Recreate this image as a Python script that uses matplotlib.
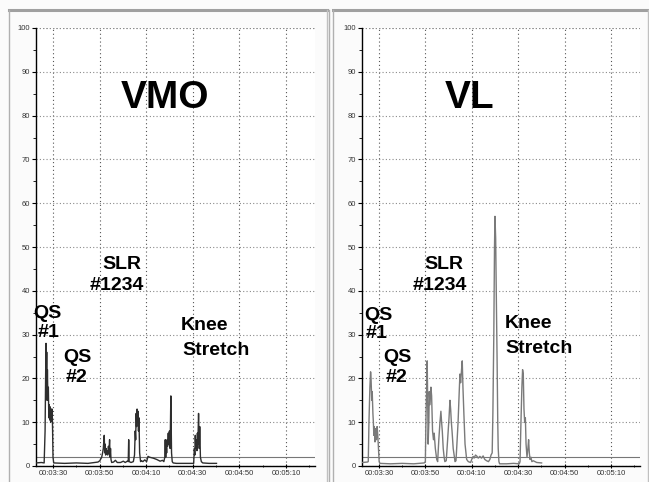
import matplotlib
matplotlib.use("Agg")
import matplotlib.pyplot as plt
from matplotlib.ticker import MultipleLocator, FuncFormatter
from matplotlib.lines import Line2D

# ---------------- data (time in seconds, EMG % ) ----------------
vmo_t = [202.7, 205.0, 206.2, 206.6, 206.9, 207.0, 207.15, 207.3, 207.45, 207.6, 207.8,
         208.0, 208.2, 208.4, 208.6, 208.8, 209.0, 209.2, 209.4, 209.6, 209.8, 210.0, 210.3,
         215.0, 220.0, 225.0, 229.3, 230.1, 230.9, 231.3, 231.6, 232.0, 232.2, 232.4, 232.6,
         232.8, 233.0, 233.2, 233.5, 233.8, 234.0, 234.3, 234.5, 234.7, 234.9, 235.2,
         236.0, 236.8, 237.6, 239.0, 240.2, 241.0, 241.9, 242.3, 242.5, 242.7, 243.5, 244.5,
         245.0, 245.3, 245.5, 245.7, 245.9, 246.1, 246.3, 246.5, 246.7, 246.9, 247.2, 247.6,
         248.0, 248.6, 249.4, 250.2, 250.8, 251.5, 253.0, 254.5, 256.0, 257.0, 257.6,
         258.0, 258.2, 258.4, 258.6, 258.8, 259.0, 259.2, 259.5, 259.7, 260.0, 260.3,
         260.6, 260.9, 261.2, 261.6, 263.0, 266.0, 268.5, 270.4, 270.7, 270.9, 271.1,
         271.3, 271.6, 271.8, 272.0, 272.2, 272.5, 272.8, 273.0, 273.3, 273.7, 274.3,
         277.0, 280.2]
vmo_v = [0.7, 0.8, 0.7, 8.0, 24.0, 28.0, 19.0, 26.0, 15.0, 22.0, 15.0,
         18.0, 11.0, 14.0, 10.5, 13.5, 10.0, 13.0, 10.5, 13.0, 9.0, 2.0, 0.7,
         0.6, 0.7, 0.6, 0.9, 1.2, 2.0, 3.0, 4.0, 7.0, 3.0, 5.0, 2.5,
         4.0, 2.8, 3.5, 2.5, 4.5, 3.0, 6.0, 2.0, 4.0, 1.5, 0.8,
         0.9, 1.3, 0.8, 0.8, 1.1, 0.8, 1.1, 1.0, 6.0, 1.0, 0.8, 1.0,
         2.5, 8.0, 6.0, 12.0, 9.0, 13.0, 10.0, 12.5, 8.0, 11.0, 3.0, 1.0,
         1.2, 1.0, 1.4, 1.0, 2.2, 2.0, 1.8, 1.5, 1.1, 1.3, 1.0,
         2.0, 6.0, 2.0, 5.0, 3.0, 6.0, 4.5, 7.5, 5.0, 8.0, 4.0,
         16.0, 3.0, 1.0, 0.7, 0.6, 0.6, 0.6, 0.6, 4.0, 2.5, 7.0,
         4.0, 6.0, 3.5, 7.5, 5.0, 12.0, 4.0, 9.0, 2.0, 1.0, 0.7,
         0.6, 0.6]

vl_t = [202.7, 205.0, 205.4, 205.7, 206.1, 206.4, 206.6, 206.9, 207.1, 207.4, 207.6,
        207.8, 208.0, 208.3, 208.6, 208.9, 209.2, 209.5, 209.7, 210.1, 210.4,
        215.0, 220.0, 225.0, 229.5, 230.0, 230.3, 230.6, 230.8, 231.0, 231.2, 231.5,
        231.7, 232.0, 232.4, 232.7, 233.1, 233.5, 233.8, 234.3, 234.9, 235.3, 235.8,
        236.3, 236.7, 237.0, 237.3, 237.7, 238.1, 238.4, 239.0, 239.6, 240.2, 240.6,
        240.9, 241.2, 241.5, 242.0, 242.8, 243.2, 243.6, 244.1, 244.6, 244.9, 245.2,
        245.6, 245.9, 246.2, 246.6, 247.1, 247.8, 248.5, 249.5, 250.2, 250.6, 251.0,
        251.6, 252.1, 252.8, 253.5, 254.2, 254.9, 255.6, 256.4, 257.2, 257.8, 258.3,
        258.8, 259.1, 259.5, 259.8, 260.0, 260.3, 260.6, 260.9, 261.2, 261.4, 261.7,
        262.0, 265.0, 268.0, 270.5, 270.8, 271.2, 271.6, 271.9, 272.2, 272.5, 272.8,
        273.1, 273.4, 273.8, 274.2, 274.5, 274.8, 275.1, 275.5, 275.9, 276.5, 278.0,
        280.1]
vl_v = [0.8, 0.9, 1.0, 10.0, 18.0, 21.5, 20.0, 15.0, 17.0, 12.0, 10.0,
        7.0, 9.0, 5.5, 8.5, 6.0, 9.0, 7.0, 5.0, 1.0, 0.6,
        0.5, 0.6, 0.5, 0.7, 1.0, 12.0, 18.0, 24.0, 15.0, 5.0, 10.0,
        17.0, 14.0, 18.0, 16.0, 8.0, 6.0, 7.5, 4.0, 1.5, 1.0, 6.0,
        10.0, 12.5, 10.0, 8.0, 4.0, 2.0, 1.0, 1.2, 6.0, 11.0, 15.0,
        13.0, 10.0, 8.0, 4.0, 1.0, 1.2, 5.0, 10.0, 17.0, 21.0, 19.0,
        22.0, 24.0, 18.0, 12.0, 5.0, 1.5, 1.0, 0.8, 1.8, 2.2, 1.8,
        2.5, 2.3, 1.8, 2.2, 1.8, 2.3, 1.5, 1.2, 1.0, 1.5, 2.5,
        3.0, 12.0, 30.0, 50.0, 57.0, 52.0, 38.0, 25.0, 10.0, 4.0, 1.0,
        0.5, 0.5, 0.6, 0.5, 1.0, 10.0, 18.0, 22.0, 21.0, 13.0, 10.0,
        11.0, 5.0, 2.0, 4.0, 6.0, 3.0, 1.5, 2.0, 1.0, 1.2, 0.8,
        0.7]

threshold = 2.0
x_range = [202.7, 322.5]
y_range = [0, 100]
panel_titles = ["VMO", "VL"]

W, H = 649, 482
fig = plt.figure(figsize=(W / 100, H / 100), dpi=100)
fig.patch.set_facecolor("#fbfbfb")


def fx(px):
    return px / W


def fy(py):
    return 1 - py / H


def fmt_time(s, pos):
    s = int(round(s))
    return "00:%02d:%02d" % (s // 60, s % 60)


def style_axes(ax):
    ax.set_xlim(*x_range)
    ax.set_ylim(*y_range)
    ax.set_facecolor("white")
    for side in ("top", "right"):
        ax.spines[side].set_visible(False)
    for side in ("left", "bottom"):
        ax.spines[side].set_color("black")
        ax.spines[side].set_linewidth(1.0)
    ax.xaxis.set_major_locator(MultipleLocator(20, offset=10))
    ax.xaxis.set_minor_locator(MultipleLocator(10))
    ax.yaxis.set_major_locator(MultipleLocator(10))
    ax.yaxis.set_minor_locator(MultipleLocator(5))
    ax.xaxis.set_major_formatter(FuncFormatter(fmt_time))
    ax.tick_params(axis="both", which="major", labelsize=5.5, labelcolor="#333333",
                   length=3, width=0.8, color="black", pad=1.5)
    ax.tick_params(axis="both", which="minor", length=2, width=0.6, color="black")
    ax.tick_params(axis="x", which="both", direction="inout")
    for lab in ax.get_xticklabels() + ax.get_yticklabels():
        lab.set_family("Liberation Sans")
    ax.grid(True, which="major", axis="y", color="#8a8a8a", linestyle=(0, (1, 2)), linewidth=0.8)
    ax.grid(True, which="major", axis="x", color="#555555", linestyle=(0, (1, 2.5)), linewidth=0.8)
    ax.axhline(100, color="#8a8a8a", linestyle=(0, (1, 2)), linewidth=0.8)
    ax.axhline(threshold, color="#777777", linewidth=0.8, zorder=2)


# panel frames
for (x0, x1) in [(9, 327), (333, 648)]:
    fig.add_artist(Line2D([fx(x0), fx(x1)], [fy(10), fy(10)], color="#a0a0a0", lw=2.2))
    fig.add_artist(Line2D([fx(x0), fx(x0)], [fy(10), fy(481)], color="#b0b0b0", lw=1.0))
    fig.add_artist(Line2D([fx(x1), fx(x1)], [fy(10), fy(481)], color="#c0c0c0", lw=1.0))
fig.add_artist(Line2D([fx(329), fx(329)], [fy(10), fy(481)], color="#b0b0b0", lw=1.0))

# axes
axL = fig.add_axes([fx(36), fy(466), fx(315) - fx(36), fy(28) - fy(466)])
axR = fig.add_axes([fx(362), fy(466), fx(640) - fx(362), fy(28) - fy(466)])
style_axes(axL)
style_axes(axR)

axL.plot(vmo_t, vmo_v, color="#2e2e2e", lw=1.0, zorder=3)
axR.plot(vl_t, vl_v, color="#7a7a7a", lw=1.0, zorder=3)

font = "Liberation Sans"


def label(px, py, s, size=14):
    fig.text(fx(px), fy(py), s, ha="center", va="baseline", fontsize=size,
             fontweight="bold", family=font, color="black")


# left panel annotations
label(165, 108, panel_titles[0], 28)
label(122, 269, "SLR")
label(117, 290, "#1234")
label(47, 318, "QS")
label(49, 337, "#1")
label(77, 362, "QS")
label(76, 382, "#2")
label(205, 330, "Knee")
label(216, 355, "Stretch")

# right panel annotations
label(470, 108, panel_titles[1], 28)
label(444, 269, "SLR")
label(440, 290, "#1234")
label(378, 320, "QS")
label(377, 338, "#1")
label(397, 362, "QS")
label(397, 382, "#2")
label(529, 328, "Knee")
label(539, 353, "Stretch")

fig.savefig("out.png", dpi=100, facecolor=fig.get_facecolor())
